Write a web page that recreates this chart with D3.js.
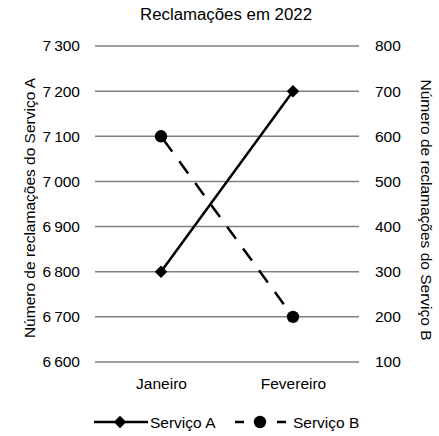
<!DOCTYPE html>
<html><head><meta charset="utf-8">
<script src="https://cdn.jsdelivr.net/npm/d3@7"></script>
<style>body{margin:0;background:#fff}svg{display:block;font-family:"Liberation Sans",Arial,sans-serif}</style>
</head><body>
<svg id="c" width="439" height="436"></svg>
<script>
const categories = ["Janeiro", "Fevereiro"];
const serviceA = [6800, 7200];
const serviceB = [600, 200];
const leftTicks = [6600, 6700, 6800, 6900, 7000, 7100, 7200, 7300];
const rightTicks = [100, 200, 300, 400, 500, 600, 700, 800];
const seriesNames = ["Serviço A", "Serviço B"];

const FS = 15.5;
const svg = d3.select("#c");
const L = 95, R = 359, T = 46, B = 362;
const x = d3.scalePoint().domain(categories).range([L, R]).padding(0.5);
const yA = d3.scaleLinear().domain([6600, 7300]).range([B, T]);
const yB = d3.scaleLinear().domain([100, 800]).range([B, T]);
const fmt = v => { const s = String(v); return s.length > 3 ? s.slice(0, s.length-3) + "\u2009" + s.slice(-3) : s; };

svg.append("text").attr("x", 226).attr("y", 20).attr("text-anchor", "middle").attr("font-size", 16)
  .attr("textLength", 172).attr("lengthAdjust", "spacingAndGlyphs").text("Reclamações em 2022");

svg.append("g").selectAll("line").data(leftTicks).join("line")
  .attr("x1", L).attr("x2", R).attr("y1", d => yA(d)).attr("y2", d => yA(d))
  .attr("stroke", "#808080").attr("stroke-width", 1.5);

const gl = svg.append("g").attr("transform", `translate(${L},0)`)
  .call(d3.axisLeft(yA).tickValues(leftTicks).tickSize(0).tickPadding(15).tickFormat(fmt));
gl.select(".domain").remove();
gl.selectAll("text").attr("font-size", FS).attr("fill", "#000").attr("font-family", "Liberation Sans, Arial, sans-serif");

const gr = svg.append("g").attr("transform", `translate(${R},0)`)
  .call(d3.axisRight(yB).tickValues(rightTicks).tickSize(0).tickPadding(16));
gr.select(".domain").remove();
gr.selectAll("text").attr("font-size", FS).attr("fill", "#000").attr("font-family", "Liberation Sans, Arial, sans-serif");

const gx = svg.append("g").attr("transform", `translate(0,${B})`)
  .call(d3.axisBottom(x).tickSize(0).tickPadding(0));
gx.select(".domain").remove();
gx.selectAll("text").attr("font-size", FS).attr("fill", "#000").attr("dy", null).attr("y", 27)
  .attr("font-family", "Liberation Sans, Arial, sans-serif");

svg.append("text").attr("transform", `translate(35,208) rotate(-90)`).attr("text-anchor", "middle").attr("font-size", FS).text("Número de reclamações do Serviço A");
svg.append("text").attr("transform", `translate(421,210) rotate(90)`).attr("text-anchor", "middle").attr("font-size", FS).text("Número de reclamações do Serviço B");

const lineA = d3.line().x((d,i) => x(categories[i])).y(d => yA(d));
const lineB = d3.line().x((d,i) => x(categories[i])).y(d => yB(d));
svg.append("path").attr("d", lineA(serviceA)).attr("fill", "none").attr("stroke", "#000").attr("stroke-width", 2.5);
svg.append("path").attr("d", lineB(serviceB)).attr("fill", "none").attr("stroke", "#000").attr("stroke-width", 2.5).attr("stroke-dasharray", "15,12").attr("stroke-dashoffset", -4);

const diamondPath = d3.symbol().type(d3.symbolSquare).size(78)();
svg.append("g").selectAll("path").data(serviceA).join("path")
  .attr("transform", (d,i) => `translate(${x(categories[i])},${yA(d)}) rotate(45)`)
  .attr("d", diamondPath).attr("fill", "#000");
svg.append("g").selectAll("circle").data(serviceB).join("circle")
  .attr("cx", (d,i) => x(categories[i])).attr("cy", d => yB(d)).attr("r", 6.2).attr("fill", "#000");

// legend
const ly = 422;
svg.append("line").attr("x1", 94).attr("x2", 148).attr("y1", ly).attr("y2", ly).attr("stroke", "#000").attr("stroke-width", 2.5);
svg.append("path").attr("transform", `translate(120,${ly}) rotate(45)`).attr("d", diamondPath).attr("fill", "#000");
svg.append("text").attr("x", 150).attr("y", ly + 5.5).attr("font-size", FS).text(seriesNames[0]);
svg.append("line").attr("x1", 235).attr("x2", 287).attr("y1", ly).attr("y2", ly).attr("stroke", "#000").attr("stroke-width", 2.5).attr("stroke-dasharray", "9,33");
svg.append("circle").attr("cx", 260).attr("cy", ly).attr("r", 6.2).attr("fill", "#000");
svg.append("text").attr("x", 293).attr("y", ly + 5.5).attr("font-size", FS).text(seriesNames[1]);
</script>
</body></html>
